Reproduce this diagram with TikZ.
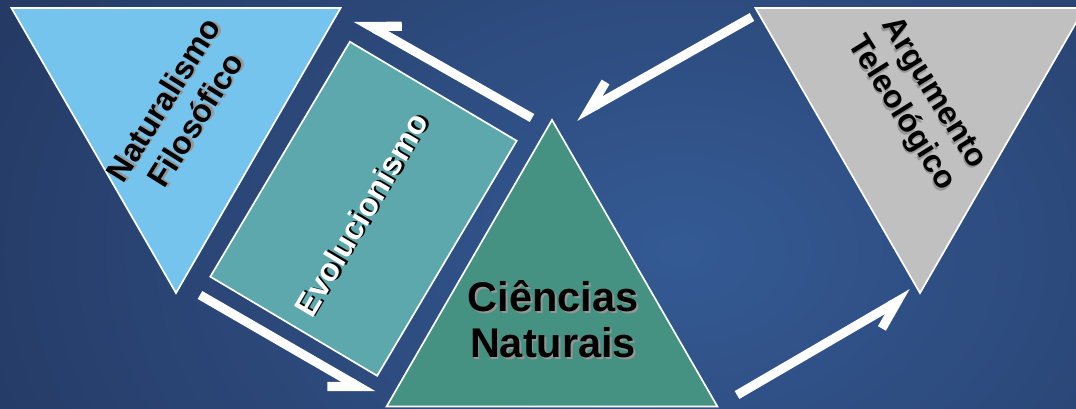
\documentclass[tikz,border=0pt]{standalone}
\usepackage{fontspec}
\setmainfont{Liberation Sans}
\usetikzlibrary{shapes.geometric,arrows.meta,positioning}

\definecolor{bgdark}{RGB}{34,52,92}
\definecolor{bglight}{RGB}{52,90,148}
\definecolor{natblue}{RGB}{117,196,238}
\definecolor{evoteal}{RGB}{92,168,172}
\definecolor{ciegreen}{RGB}{69,146,130}
\definecolor{arggray}{RGB}{192,192,192}
\definecolor{shadegray}{RGB}{150,150,150}

% text with a small drop shadow
\newcommand{\shd}[2]{\makebox[0pt][l]{\kern1.3pt\raisebox{-1.3pt}{\textcolor{#1}{#2}}}#2}

\begin{document}
\begin{tikzpicture}[x=0.025cm, y=-0.025cm,
    tri/.style={draw=white, line width=1.2pt, regular polygon, regular polygon sides=3, inner sep=0pt},
    flow/.style={draw=white, line width=6.5pt, -{Straight Barb[harpoon, swap, angle=60:22pt]}},
    lbl/.style={font=\bfseries\fontsize{22.8}{27}\selectfont, align=center, inner sep=0pt}]
        % Background
        \useasboundingbox (0,0) rectangle (1076,408);
        \clip (0,0) rectangle (1076,408);
        \fill[bgdark] (0,0) rectangle (1076,408);
        \shade[inner color=bglight, outer color=bgdark] (680,250) ellipse (900 and 650);

        % Shapes
        \node (natTri) [tri, fill=natblue, minimum size=9.5cm, shape border rotate=180] at (176,103) {};
        \node (cieTri) [tri, fill=ciegreen, minimum size=9.55cm] at (552,311) {};
        \node (argTri) [tri, fill=arggray, minimum size=9.5cm, shape border rotate=180] at (920,103) {};
        \node (evoBox) [draw=white, line width=1.2pt, fill=evoteal, rotate=59.3, minimum width=6.83cm,
            minimum height=4.85cm, inner sep=0pt] at (363.5,208.75) {};

        % Labels
        \node (natTxt) [lbl, rotate=58] at (180,110) {\shd{shadegray}{Naturalismo}\\\shd{shadegray}{Filosófico}};
        \node (evoTxt) [lbl, rotate=59.3, text=white, font=\bfseries\fontsize{23}{27}\selectfont] at (362,215) {\shd{black}{Evolucionismo}};
        \node (argTxt) [lbl, rotate=-58] at (916,104) {\shd{shadegray}{Argumento}\\\shd{shadegray}{Teleológico}};
        \node (cieTxt) [lbl, font=\bfseries\fontsize{29.5}{33}\selectfont] at (553,320) {\shd{shadegray}{Ciências}\\\shd{shadegray}{Naturais}};

        % Arrows
        \coordinate (evoOut) at (532,118);
        \coordinate (natIn) at (356,18);
        \coordinate (argOut) at (752,17);
        \coordinate (cieIn) at (575,117);
        \coordinate (cieOut) at (737,395);
        \coordinate (argIn) at (912,293);
        \coordinate (natOut) at (200,295);
        \coordinate (evoIn) at (373,395);
        \draw[flow] (evoOut) -- (natIn);
        \draw[flow] (argOut) -- (cieIn);
        \draw[flow] (cieOut) -- (argIn);
        \draw[flow] (natOut) -- (evoIn);
\end{tikzpicture}
\end{document}
